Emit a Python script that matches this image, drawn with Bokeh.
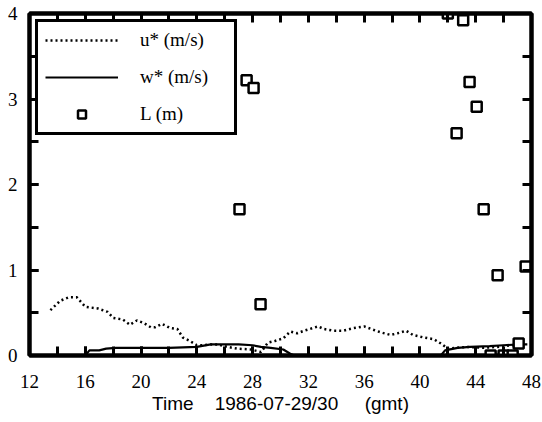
import numpy as np
from bokeh.plotting import figure
from bokeh.models import (LinearAxis, Legend, LegendItem, Range1d,
                          SingleIntervalTicker, FixedTicker)
from bokeh.embed import file_html
from bokeh.resources import INLINE

# ---- data ----
ustar_t = [13.5, 14.2, 14.8, 15.4, 16.0, 16.9, 17.6, 18.0, 18.7, 19.2, 19.7,
           20.2, 20.7, 21.0, 21.5, 22.1, 22.6, 23.0, 23.5, 24.0, 24.5, 25.0,
           25.5, 26.2, 26.9, 27.9, 28.6, 29.1, 29.6, 30.2, 30.7, 31.2, 31.7,
           32.7, 33.1, 33.8, 34.5, 35.2, 36.0, 36.5, 37.2, 37.9, 38.4, 39.0,
           39.5, 40.3, 41.0, 41.5, 42.0, 42.5, 43.5, 44.5, 45.5, 46.5, 47.3]
ustar_v = [0.53, 0.64, 0.68, 0.68, 0.57, 0.55, 0.51, 0.44, 0.42, 0.36, 0.41,
           0.38, 0.33, 0.33, 0.37, 0.32, 0.31, 0.21, 0.17, 0.12, 0.12, 0.13,
           0.13, 0.10, 0.08, 0.07, 0.04, 0.15, 0.17, 0.20, 0.28, 0.26, 0.29,
           0.34, 0.31, 0.29, 0.29, 0.32, 0.34, 0.31, 0.27, 0.24, 0.26, 0.29,
           0.24, 0.21, 0.19, 0.14, 0.08, 0.09, 0.10, 0.09, 0.10, 0.12, 0.13]

wstar_t = [16.0, 16.3, 17.0, 17.5, 18.2, 20.0, 22.0, 24.0, 25.0, 26.0, 27.0,
           28.0, 28.6, 29.3, 30.2, 30.7, 31.0, 41.5, 41.8, 42.7, 43.6, 45.0,
           46.0, 47.2, 47.7]
wstar_v = [0.0, 0.06, 0.06, 0.08, 0.09, 0.09, 0.09, 0.10, 0.13, 0.13, 0.13,
           0.12, 0.10, 0.09, 0.07, 0.02, 0.0, 0.0, 0.06, 0.09, 0.10, 0.11,
           0.12, 0.13, 0.13]

L_t = [27.06, 27.57, 28.07, 28.57, 42.0, 42.63, 43.1, 43.56, 44.07, 44.57,
       45.07, 45.57, 46.0, 46.65, 47.08, 47.58]
L_v = [1.71, 3.22, 3.13, 0.60, 4.0, 2.60, 3.92, 3.20, 2.91, 1.71,
       0.0, 0.94, 0.0, 0.0, 0.14, 1.04]

x_tick_marks = [12, 14, 16, 18, 20, 22, 24, 26, 28, 30, 32, 34, 36, 38, 40,
                42, 44, 46, 48]
y_tick_marks = [0, 0.5, 1, 1.5, 2, 2.5, 3, 3.5, 4]

SERIF = "Liberation Serif"
SANS = "Liberation Sans"
BLACK = "#000000"
NB = "\u00a0"

p = figure(width=542, height=422, output_backend="svg", toolbar_location=None,
           x_range=Range1d(12, 48), y_range=Range1d(0, 4),
           min_border_left=29, min_border_right=11, min_border_top=13,
           min_border_bottom=67, x_axis_location=None, y_axis_location=None)
p.grid.visible = False
p.outline_line_color = BLACK
p.outline_line_alpha = 1.0
p.outline_line_width = 4


def style_axis(ax):
    ax.axis_line_width = 4
    ax.axis_line_color = BLACK
    ax.axis_line_alpha = 1.0
    ax.major_tick_in = 9
    ax.major_tick_out = 0
    ax.minor_tick_in = 9
    ax.minor_tick_out = 0
    ax.major_tick_line_width = 3
    ax.minor_tick_line_width = 3
    ax.major_tick_line_color = BLACK
    ax.minor_tick_line_color = BLACK
    ax.major_tick_line_alpha = 1.0
    ax.minor_tick_line_alpha = 1.0
    ax.major_label_text_font = SERIF
    ax.major_label_text_font_size = "19px"
    ax.major_label_text_color = BLACK


xb = LinearAxis(ticker=SingleIntervalTicker(interval=4, num_minor_ticks=2))
style_axis(xb)
xb.major_label_standoff = 19
xb.axis_label = "Time" + NB * 4 + "1986-07-29/30" + NB * 5 + "(gmt)"
xb.axis_label_text_font = SANS
xb.axis_label_text_font_style = "normal"
xb.axis_label_text_font_size = "19px"
xb.axis_label_text_color = BLACK
xb.axis_label_standoff = 2
p.add_layout(xb, "below")

# top axis: tick marks only (no major ticks -> no labels)
xt = LinearAxis(ticker=FixedTicker(ticks=[], minor_ticks=x_tick_marks))
style_axis(xt)
p.add_layout(xt, "above")

yl = LinearAxis(ticker=SingleIntervalTicker(interval=1, num_minor_ticks=2))
style_axis(yl)
yl.major_label_standoff = 12
yl.major_label_orientation = "horizontal"
p.add_layout(yl, "left")

yr = LinearAxis(ticker=FixedTicker(ticks=[], minor_ticks=y_tick_marks))
style_axis(yr)
p.add_layout(yr, "right")

r_u = p.line(ustar_t, ustar_v, line_color=BLACK, line_width=2.5,
             line_dash="2 3")
r_w = p.line(wstar_t, wstar_v, line_color=BLACK, line_width=2.2)
r_L = p.scatter(L_t, L_v, marker="square", size=10, line_color=BLACK,
                line_width=2.5, fill_color="white")

legend = Legend(items=[LegendItem(label="u* (m/s)", renderers=[r_u]),
                       LegendItem(label="w* (m/s)", renderers=[r_w]),
                       LegendItem(label="L (m)", renderers=[r_L])],
                location="top_left")
legend.margin = 6
legend.padding = 7
legend.spacing = 15
legend.glyph_width = 73
legend.glyph_height = 20
legend.label_height = 20
legend.label_width = 87
legend.label_standoff = 22
legend.label_text_font = SERIF
legend.label_text_font_size = "19px"
legend.label_text_color = BLACK
legend.border_line_color = BLACK
legend.border_line_width = 3
legend.border_line_alpha = 1.0
legend.background_fill_alpha = 1
p.add_layout(legend, "center")

open("out.html", "w").write(file_html(p, INLINE))
